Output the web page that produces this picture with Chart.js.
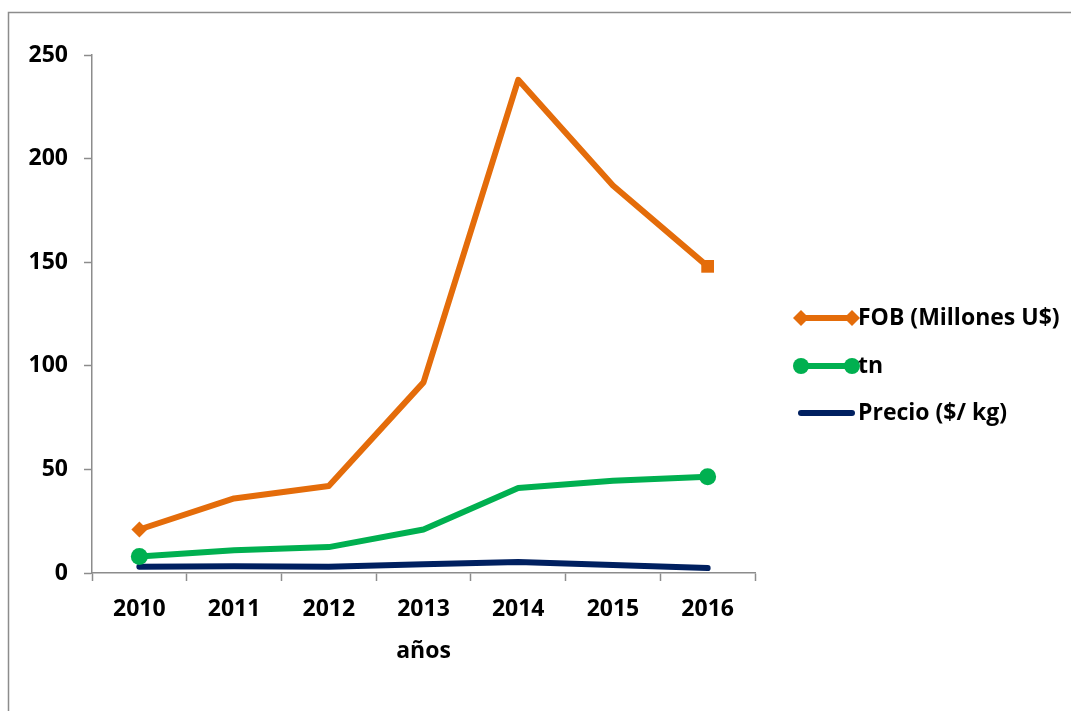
<!DOCTYPE html>
<html>
<head>
<meta charset="utf-8">
<script src="https://cdn.jsdelivr.net/npm/chart.js@4.4.0/dist/chart.umd.min.js"></script>
<style>
  html, body { margin: 0; padding: 0; background: #fff; }
  #wrap { width: 1071px; height: 711px; position: relative; }
</style>
</head>
<body>
<div id="wrap"><canvas id="c" width="1071" height="711"></canvas></div>
<script>
// Exportaciones por año
const years = ['2010', '2011', '2012', '2013', '2014', '2015', '2016'];
const fobValues = [21, 36, 42, 92, 238, 187, 148];      // FOB (Millones U$)
const tnValues = [8, 11, 12.5, 21, 41, 44.5, 46.5];     // tn
const precioValues = [3, 3.3, 3, 4.2, 5.3, 3.9, 2.4];   // Precio ($/ kg)
const yTicks = [0, 50, 100, 150, 200, 250];

const ORANGE = '#E46C0A';
const GREEN = '#00B050';
const NAVY = '#002060';
const AXIS = '#8C8C8C';
const FONT = '"Open Sans", Lato, sans-serif';
const FSIZE = 23;

// outer frame of the chart
const framePlugin = {
  id: 'frame',
  beforeDraw(chart) {
    const ctx = chart.ctx;
    ctx.save();
    ctx.strokeStyle = AXIS;
    ctx.lineWidth = 1.5;
    ctx.beginPath();
    ctx.moveTo(8.5, chart.height + 2);
    ctx.lineTo(8.5, 12.5);
    ctx.lineTo(chart.width + 2, 12.5);
    ctx.stroke();
    ctx.restore();
  }
};

// legend on the right: a line sample with end markers, then the label
const sideLegend = {
  id: 'sideLegend',
  afterDraw(chart) {
    const ctx = chart.ctx;
    const x0 = 801, x1 = 852, tx = 858;
    const rows = [318, 366, 413];
    chart.data.datasets.forEach((ds, i) => {
      const y = rows[i];
      ctx.save();
      ctx.strokeStyle = ds.borderColor;
      ctx.lineWidth = 6;
      ctx.lineCap = 'round';
      ctx.beginPath();
      ctx.moveTo(x0, y);
      ctx.lineTo(x1, y);
      ctx.stroke();
      ctx.fillStyle = ds.borderColor;
      const style = ds.legendMarker;
      [x0, x1].forEach(x => {
        if (style === 'circle') {
          ctx.beginPath();
          ctx.arc(x, y, 8, 0, Math.PI * 2);
          ctx.fill();
        } else if (style === 'diamond') {
          ctx.beginPath();
          ctx.moveTo(x, y - 8);
          ctx.lineTo(x + 8, y);
          ctx.lineTo(x, y + 8);
          ctx.lineTo(x - 8, y);
          ctx.closePath();
          ctx.fill();
        }
      });
      ctx.fillStyle = '#000';
      ctx.font = 'bold ' + FSIZE + 'px ' + FONT;
      ctx.textBaseline = 'middle';
      ctx.textAlign = 'left';
      ctx.fillText(ds.label, tx, y);
      ctx.restore();
    });
  }
};

new Chart(document.getElementById('c'), {
  type: 'line',
  data: {
    labels: years,
    datasets: [
      {
        label: 'FOB (Millones U$)',
        data: fobValues,
        borderColor: ORANGE,
        backgroundColor: ORANGE,
        borderWidth: 6,
        // markers only on the first and last year
        pointRadius: [8, 0, 0, 0, 0, 0, 9],
        pointStyle: ['rectRot', false, false, false, false, false, 'rect'],
        pointBorderWidth: 0,
        legendMarker: 'diamond'
      },
      {
        label: 'tn',
        data: tnValues,
        borderColor: GREEN,
        backgroundColor: GREEN,
        borderWidth: 6,
        pointRadius: [8.5, 0, 0, 0, 0, 0, 8.5],
        pointStyle: 'circle',
        pointBorderWidth: 0,
        legendMarker: 'circle'
      },
      {
        label: 'Precio ($/ kg)',
        data: precioValues,
        borderColor: NAVY,
        backgroundColor: NAVY,
        borderWidth: 6,
        borderCapStyle: 'round',
        pointRadius: 0,
        legendMarker: 'none'
      }
    ]
  },
  options: {
    responsive: false,
    animation: false,
    layout: { padding: { left: 0, right: 316, top: 55, bottom: 46 } },
    elements: { line: { tension: 0, borderJoinStyle: 'round' } },
    plugins: {
      legend: { display: false },
      tooltip: { enabled: false }
    },
    scales: {
      x: {
        offset: true,
        grid: {
          offset: true,
          drawOnChartArea: false,
          drawTicks: true,
          tickLength: 8,
          tickWidth: 1.5,
          tickColor: AXIS
        },
        border: { display: true, color: AXIS, width: 1.5 },
        ticks: {
          color: '#000',
          padding: 15,
          font: { family: FONT, size: FSIZE, weight: 'bold' }
        },
        title: {
          display: true,
          text: 'años',
          color: '#000',
          padding: { top: 0, bottom: 0 },
          font: { family: FONT, size: FSIZE, weight: 'bold' }
        },
        afterFit(scale) { scale.height = 92; }
      },
      y: {
        min: 0,
        max: 250,
        afterBuildTicks(scale) { scale.ticks = yTicks.map(v => ({ value: v })); },
        grid: {
          drawOnChartArea: false,
          drawTicks: true,
          tickLength: 8,
          tickWidth: 1.5,
          tickColor: AXIS
        },
        border: { display: true, color: AXIS, width: 1.5 },
        ticks: {
          color: '#000',
          padding: 16,
          font: { family: FONT, size: FSIZE, weight: 'bold' }
        },
        afterFit(scale) { scale.width = 92; }
      }
    }
  },
  plugins: [framePlugin, sideLegend]
});
</script>
</body>
</html>
